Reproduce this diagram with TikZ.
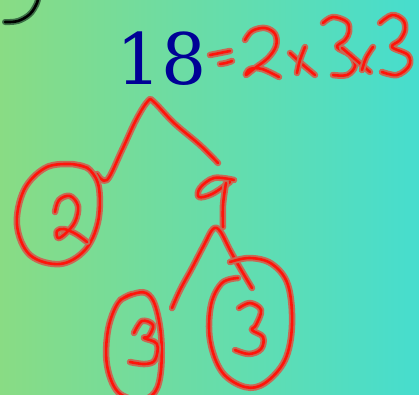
\documentclass[tikz,border=0pt]{standalone}
\usepackage{fontspec}
\newfontfamily\digitfont{DejaVu Serif}
\definecolor{bgleft}{RGB}{137,220,132}
\definecolor{bgright}{RGB}{70,221,206}
\definecolor{penred}{RGB}{255,20,10}
\definecolor{halo}{RGB}{200,105,85}
\definecolor{inkblue}{RGB}{0,0,150}
\definecolor{darkhalo}{RGB}{60,110,70}
\tikzset{
  pen/.style={draw=penred, line width=2.6pt, line cap=round, line join=round,
    preaction={draw=halo, line width=6.5pt, line cap=round, line join=round}},
  blackpen/.style={draw=black, line width=2.6pt, line cap=round,
    preaction={draw=darkhalo, line width=6pt, line cap=round}},
  sm/.style={smooth, tension=0.6}
}
\begin{document}
\begin{tikzpicture}[x=1pt,y=-1pt]
\useasboundingbox (0,0) rectangle (419,394);
\shade[left color=bgleft, right color=bgright] (0,0) rectangle (419,394);
% black arc top-left
\draw[blackpen] plot[sm] coordinates {(5,22) (18,21) (30,14) (37,3) (38,-4)};
% 18
\node[anchor=base, inner sep=0pt, text=inkblue, font=\digitfont\fontsize{71}{71}\selectfont] (n18) at (162,84) {18};
% = 2 x 3 x 3
\draw[pen] plot[sm] coordinates {(210,55) (220,53) (230,51)};
\draw[pen] plot[sm] coordinates {(220,64) (226,63) (232,61)};
\draw[pen] plot[sm] coordinates {(245,40) (252,31) (265,28) (275,34) (276,46) (268,58) (255,68) (246,75) (250,69) (262,69) (279,77)};
\draw[pen] plot[sm] coordinates {(290,53) (302,64) (315,75)};
\draw[pen] plot[sm] coordinates {(305,47) (300,60) (297,73)};
\draw[pen] plot[sm] coordinates {(323,23) (333,17) (347,22) (349,32) (345,40) (337,47) (350,55) (355,66) (347,75) (333,75)};
\draw[pen] plot[sm] coordinates {(342,48) (356,60) (370,72)};
\draw[pen] plot[sm] coordinates {(373,47) (366,58) (362,70)};
\draw[pen] plot[sm] coordinates {(380,23) (392,15) (403,20) (405,30) (400,40) (392,47) (408,55) (409,66) (397,75) (382,72)};
% tree 18 -> 2, 9
\draw[pen] plot[sm] coordinates {(97,174) (107,180) (122,150) (136,120) (148,101) (154,102) (174,123) (200,145) (218,163)};
% circle around 2
\draw[pen] plot[sm] coordinates {(78,165) (90,170) (99,188) (98,222) (85,250) (60,264) (30,255) (17,225) (24,190) (45,168) (70,164) (88,168)};
% 2
\draw[pen] plot[sm] coordinates {(55,212) (59,200) (70,196) (78,206) (75,222) (65,234) (58,238) (57,231) (64,229) (76,234) (87,242)};
% 9
\draw[pen] plot[sm] coordinates {(234,180) (214,178) (200,188) (199,197) (212,194) (230,182)};
\draw[pen] plot[sm] coordinates {(226,183) (223,205) (223,227)};
% tree 9 -> 3, 3
\draw[pen] plot[sm] coordinates {(172,308) (180,290) (192,268) (204,245) (213,229) (220,231) (230,250) (240,268) (252,288)};
% left circle with 3
\draw[pen] plot[sm] coordinates {(120,300) (133,294) (146,293) (155,305) (161,335) (161,370) (155,392) (140,400) (118,392) (107,365) (108,330) (118,303) (132,294)};
\draw[pen] plot[sm] coordinates {(134,333) (142,321) (153,325) (149,336) (144,338) (157,344) (155,360) (145,364) (130,362)};
% right circle with 3
\draw[pen] plot[sm] coordinates {(230,262) (250,258) (272,264) (288,285) (292,325) (285,360) (265,383) (245,387) (222,372) (210,340) (211,305) (222,283) (238,278)};
\draw[pen] plot[sm] coordinates {(239,308) (250,303) (261,310) (256,325) (252,330) (263,337) (261,349) (249,354) (235,350)};
\end{tikzpicture}
\end{document}
